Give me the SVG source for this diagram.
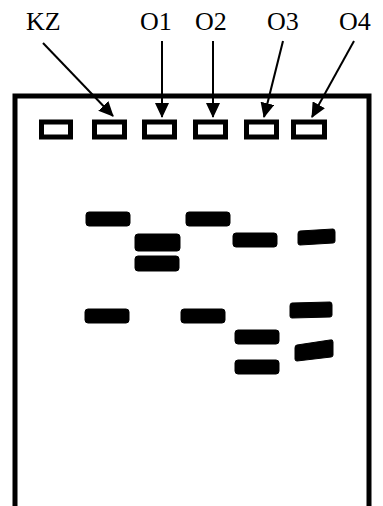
<svg xmlns="http://www.w3.org/2000/svg" width="383" height="506" viewBox="0 0 383 506">
<style>
.lbl{font-family:"Liberation Serif","Times New Roman",serif;font-size:26px;fill:#000}
.well{fill:#fff;stroke:#000;stroke-width:5}
.band{fill:#000;stroke:#000;stroke-width:1;stroke-linejoin:round}
.arr{stroke:#000;stroke-width:2;fill:none;marker-end:url(#ah)}
.frame{fill:none;stroke:#000;stroke-width:5}
</style>
<defs>
<marker id="ah" markerUnits="userSpaceOnUse" markerWidth="16" markerHeight="14" refX="14" refY="7" orient="auto">
<path d="M0,0 L15,7 L0,14 Z" fill="#000"/>
</marker>
</defs>
<rect width="383" height="506" fill="#fff"/>
<g id="gel">
<path class="frame" d="M15,506 V96 H369 V506"/>
</g>
<g id="labels">
<text class="lbl" x="26" y="30">KZ</text>
<text class="lbl" x="140" y="30">O1</text>
<text class="lbl" x="195" y="30">O2</text>
<text class="lbl" x="267" y="30">O3</text>
<text class="lbl" x="339" y="30">O4</text>
</g>
<g id="wells">
<rect class="well" x="41.5" y="122" width="29" height="15"/>
<rect class="well" x="94.5" y="122" width="30" height="15"/>
<rect class="well" x="144.5" y="122" width="30" height="15"/>
<rect class="well" x="195.5" y="122" width="30" height="15"/>
<rect class="well" x="246.5" y="122" width="30" height="15"/>
<rect class="well" x="293.5" y="122" width="31" height="15"/>
</g>
<g id="connectors">
<line class="arr" x1="43" y1="43" x2="113" y2="116"/>
<line class="arr" x1="162" y1="41" x2="162" y2="117"/>
<line class="arr" x1="213" y1="41" x2="213" y2="117"/>
<line class="arr" x1="283" y1="41" x2="264" y2="117"/>
<line class="arr" x1="354" y1="41" x2="312" y2="117"/>
</g>
<g id="bands">
<rect class="band" x="86" y="212" width="44" height="14" rx="3"/>
<rect class="band" x="135" y="234" width="45" height="17" rx="3"/>
<rect class="band" x="135" y="256" width="44" height="15" rx="3"/>
<rect class="band" x="186" y="212" width="44" height="14" rx="3"/>
<rect class="band" x="233" y="233" width="44" height="14" rx="3"/>
<path class="band" d="M300,231 L333,229 Q335,229 335,232 L335,241 Q335,243 333,243 L300,245 Q298,245 298,243 L298,234 Q298,231 300,231 Z"/>
<rect class="band" x="85" y="309" width="44" height="14" rx="3"/>
<rect class="band" x="181" y="309" width="44" height="14" rx="3"/>
<rect class="band" x="235" y="330" width="44" height="14" rx="3"/>
<rect class="band" x="235" y="360" width="44" height="14" rx="3"/>
<path class="band" d="M292,303 L330,302 Q332,302 332,305 L332,315 Q332,317 330,317 L292,318 Q290,318 290,316 L290,306 Q290,303 292,303 Z"/>
<path class="band" d="M297,345 L330,340 Q333,339 333,342 L333,355 Q333,357 331,357 L297,361 Q295,361 295,359 L295,348 Q295,345 297,345 Z"/>
</g>
</svg>
